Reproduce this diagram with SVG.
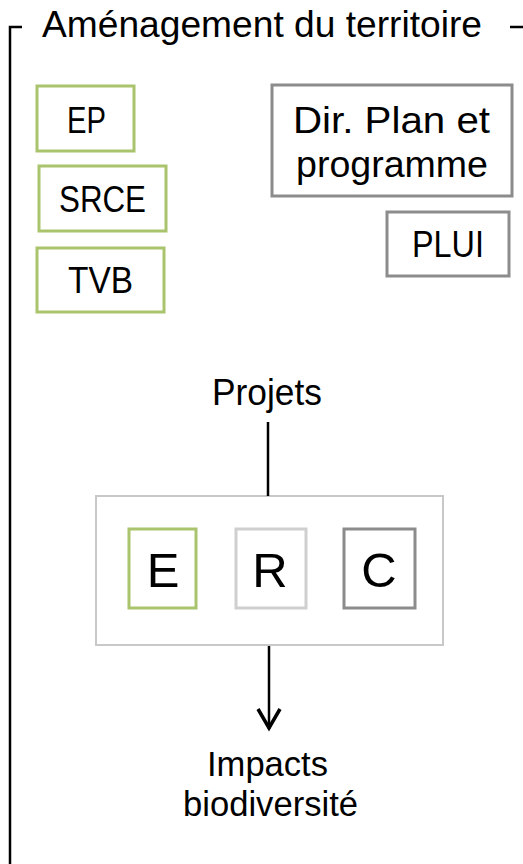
<svg xmlns="http://www.w3.org/2000/svg" width="523" height="864" viewBox="0 0 523 864">
<defs>
<style>
text{font-family:"Liberation Sans","Open Sans",sans-serif;fill:#000;text-anchor:middle}
.t{font-size:36px}
.s{font-size:35px}
.big{font-size:49px}
.green{fill:#fff;stroke:#a9c46c;stroke-width:3}
.grey{fill:#fff;stroke:#8c8c8c;stroke-width:3}
.light{fill:#fff;stroke:#cfcfcf;stroke-width:3}
.frame{fill:#fff;stroke:#c8c8c8;stroke-width:2}
.line{stroke:#000;stroke-width:2.5;fill:none}
</style>
</defs>
<rect width="523" height="864" fill="#fff"/>
<g id="frame-territoire">
<path class="line" d="M22,27 H10 V864" stroke-width="3"/>
<path class="line" d="M510,27 H523"/>
<text class="t" x="262" y="37" textLength="440" lengthAdjust="spacingAndGlyphs">Aménagement du territoire</text>
</g>
<g id="ep"><rect class="green" x="37" y="86" width="97" height="65"/><text class="t" x="86.5" y="133" textLength="39" lengthAdjust="spacingAndGlyphs">EP</text></g>
<g id="srce"><rect class="green" x="39" y="166" width="127" height="65"/><text class="t" x="102.5" y="212" textLength="87" lengthAdjust="spacingAndGlyphs">SRCE</text></g>
<g id="tvb"><rect class="green" x="37" y="248" width="127" height="64"/><text class="t" x="100.5" y="293" textLength="65" lengthAdjust="spacingAndGlyphs">TVB</text></g>
<g id="dir"><rect class="grey" x="272" y="85" width="240" height="111"/><text class="t" x="391.5" y="133" textLength="197" lengthAdjust="spacingAndGlyphs">Dir. Plan et</text><text class="t" x="392" y="177" textLength="192" lengthAdjust="spacingAndGlyphs">programme</text></g>
<g id="plui"><rect class="grey" x="387" y="212" width="122" height="64"/><text class="t" x="448" y="257" textLength="72" lengthAdjust="spacingAndGlyphs">PLUI</text></g>
<g id="projets"><text class="t" x="267" y="405" textLength="110" lengthAdjust="spacingAndGlyphs">Projets</text></g>
<g id="erc"><rect class="frame" x="96" y="496" width="347" height="149"/></g>
<g id="e"><rect class="green" x="129" y="529" width="67" height="79"/><text class="big" x="163" y="587">E</text></g>
<g id="r"><rect class="light" x="236" y="529" width="70" height="79"/><text class="big" x="270" y="587">R</text></g>
<g id="c"><rect class="grey" x="344" y="529" width="71" height="79"/><text class="big" x="379" y="587">C</text></g>
<g id="impacts"><text class="s" x="267.5" y="776" textLength="121" lengthAdjust="spacingAndGlyphs">Impacts</text><text class="s" x="270.5" y="816" textLength="175" lengthAdjust="spacingAndGlyphs">biodiversité</text></g>
<g id="connectors">
<path class="line" d="M268,422 V496"/>
<path class="line" d="M269,646 V729"/>
<path d="M258,709 L269,728 L280,709" fill="none" stroke="#000" stroke-width="3.5"/>
</g>
</svg>
